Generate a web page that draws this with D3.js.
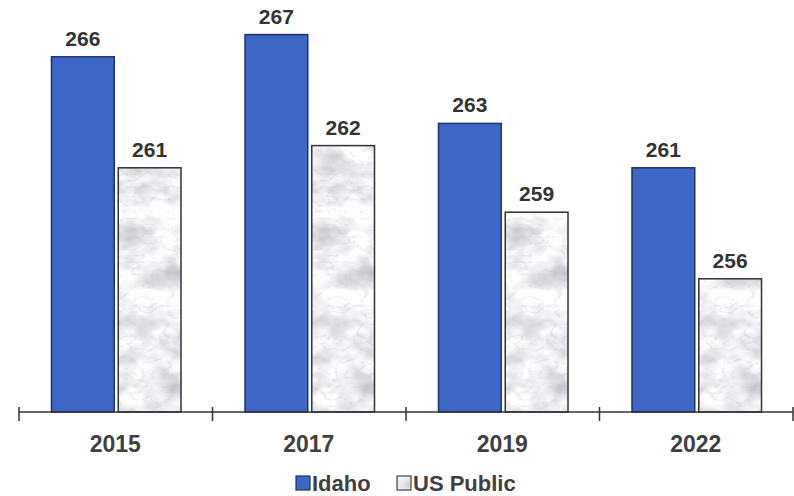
<!DOCTYPE html>
<html><head><meta charset="utf-8">
<script src="https://cdn.jsdelivr.net/npm/d3@7"></script>
<style>html,body{margin:0;padding:0;background:#fff;overflow:hidden}</style>
</head><body>
<svg id="c" width="794" height="496"></svg>
<script>
const categories = ["2015", "2017", "2019", "2022"];
const seriesNames = ["Idaho", "US Public"];
const idaho = [266, 267, 263, 261];
const usPublic = [261, 262, 259, 256];

const svg = d3.select("#c");
const defs = svg.append("defs");
const f = defs.append("filter").attr("id","marble").attr("x","0").attr("y","0").attr("width","1").attr("height","1");
f.append("feTurbulence").attr("type","fractalNoise").attr("baseFrequency","0.03 0.045").attr("numOctaves",3).attr("seed",3).attr("result","n1");
f.append("feTurbulence").attr("type","turbulence").attr("baseFrequency","0.06 0.08").attr("numOctaves",3).attr("seed",11).attr("result","n2");
f.append("feColorMatrix").attr("in","n1").attr("type","matrix")
 .attr("values","0.9 0 0 0 0.42  0.9 0 0 0 0.42  0.9 0 0 0 0.45  0 0 0 0 1").attr("result","g1");
f.append("feColorMatrix").attr("in","n2").attr("type","matrix")
 .attr("values","0 0 0 0 0.55  0 0 0 0 0.55  0 0 0 0 0.58  -2.2 0 0 0 0.45").attr("result","g2");
f.append("feComposite").attr("in","g2").attr("in2","g1").attr("operator","over").attr("result","g3");
f.append("feComposite").attr("in","g3").attr("in2","SourceGraphic").attr("operator","in");

const baseY = 412;
const x0 = d3.scaleBand().domain(categories).range([19, 793]).padding(0);
const x1 = d3.scaleBand().domain(seriesNames).range([32.5, 162]).paddingInner(0.06);
const y = d3.scaleLinear().domain([250, 270]).range([baseY, baseY - 20*22.2]);

const FONT = "Liberation Sans, Arial, sans-serif";
const data = categories.map((c,i)=>({c, vals:[{s:"Idaho",v:idaho[i]},{s:"US Public",v:usPublic[i]}]}));
const g = svg.append("g");
const grp = g.selectAll("g.cat").data(data).join("g").attr("transform",d=>`translate(${x0(d.c)},0)`);

grp.each(function(d){
  const gg = d3.select(this);
  d.vals.forEach(o=>{
    const bx = x1(o.s), bw = x1.bandwidth(), by = y(o.v), bh = baseY - y(o.v);
    if(o.s==="Idaho"){
      gg.append("rect").attr("x",bx).attr("y",by).attr("width",bw).attr("height",bh)
        .attr("fill","#3D66C7").attr("stroke","#1d336b").attr("stroke-width",1.5);
    } else {
      gg.append("rect").attr("x",bx).attr("y",by).attr("width",bw).attr("height",bh)
        .attr("fill","#fff").attr("filter","url(#marble)");
      gg.append("rect").attr("x",bx).attr("y",by).attr("width",bw).attr("height",bh)
        .attr("fill","none").attr("stroke","#333").attr("stroke-width",1.5);
    }
    gg.append("text").attr("x",bx+bw/2).attr("y",by-11).attr("text-anchor","middle")
      .attr("font-family",FONT).attr("font-weight","bold")
      .attr("font-size",21).attr("fill","#333").text(o.v);
  });
});

// axis
const ax = svg.append("g");
ax.append("line").attr("x1",x0.range()[0]).attr("x2",x0.range()[1]).attr("y1",baseY).attr("y2",baseY)
  .attr("stroke","#333").attr("stroke-width",1.5);
const tickPos = categories.map(c=>x0(c)).concat([x0.range()[1]]);
ax.selectAll("line.t").data(tickPos).join("line").attr("class","t")
  .attr("x1",d=>d).attr("x2",d=>d).attr("y1",baseY-5).attr("y2",baseY+9)
  .attr("stroke","#333").attr("stroke-width",1.5);
ax.selectAll("text").data(categories).join("text")
  .attr("x",d=>x0(d)+x0.bandwidth()/2 - 0.5).attr("y",452).attr("text-anchor","middle")
  .attr("font-family",FONT).attr("font-weight","bold")
  .attr("font-size",23).attr("fill","#404040").text(d=>d);

// legend
const leg = svg.append("g");
const legItems = [{s:"Idaho",x:296},{s:"US Public",x:397}];
legItems.forEach(it=>{
  if(it.s==="Idaho"){
    leg.append("rect").attr("x",it.x).attr("y",476).attr("width",14).attr("height",14)
      .attr("fill","#3D66C7").attr("stroke","#1d336b").attr("stroke-width",1.2);
  } else {
    leg.append("rect").attr("x",it.x).attr("y",476).attr("width",14).attr("height",14)
      .attr("fill","#fff").attr("filter","url(#marble)");
    leg.append("rect").attr("x",it.x).attr("y",476).attr("width",14).attr("height",14)
      .attr("fill","none").attr("stroke","#444").attr("stroke-width",1.2);
  }
  leg.append("text").attr("x",it.x+16).attr("y",491)
    .attr("font-family",FONT).attr("font-weight","bold")
    .attr("font-size",22).attr("fill","#404040").text(it.s);
});
</script>
</body></html>
